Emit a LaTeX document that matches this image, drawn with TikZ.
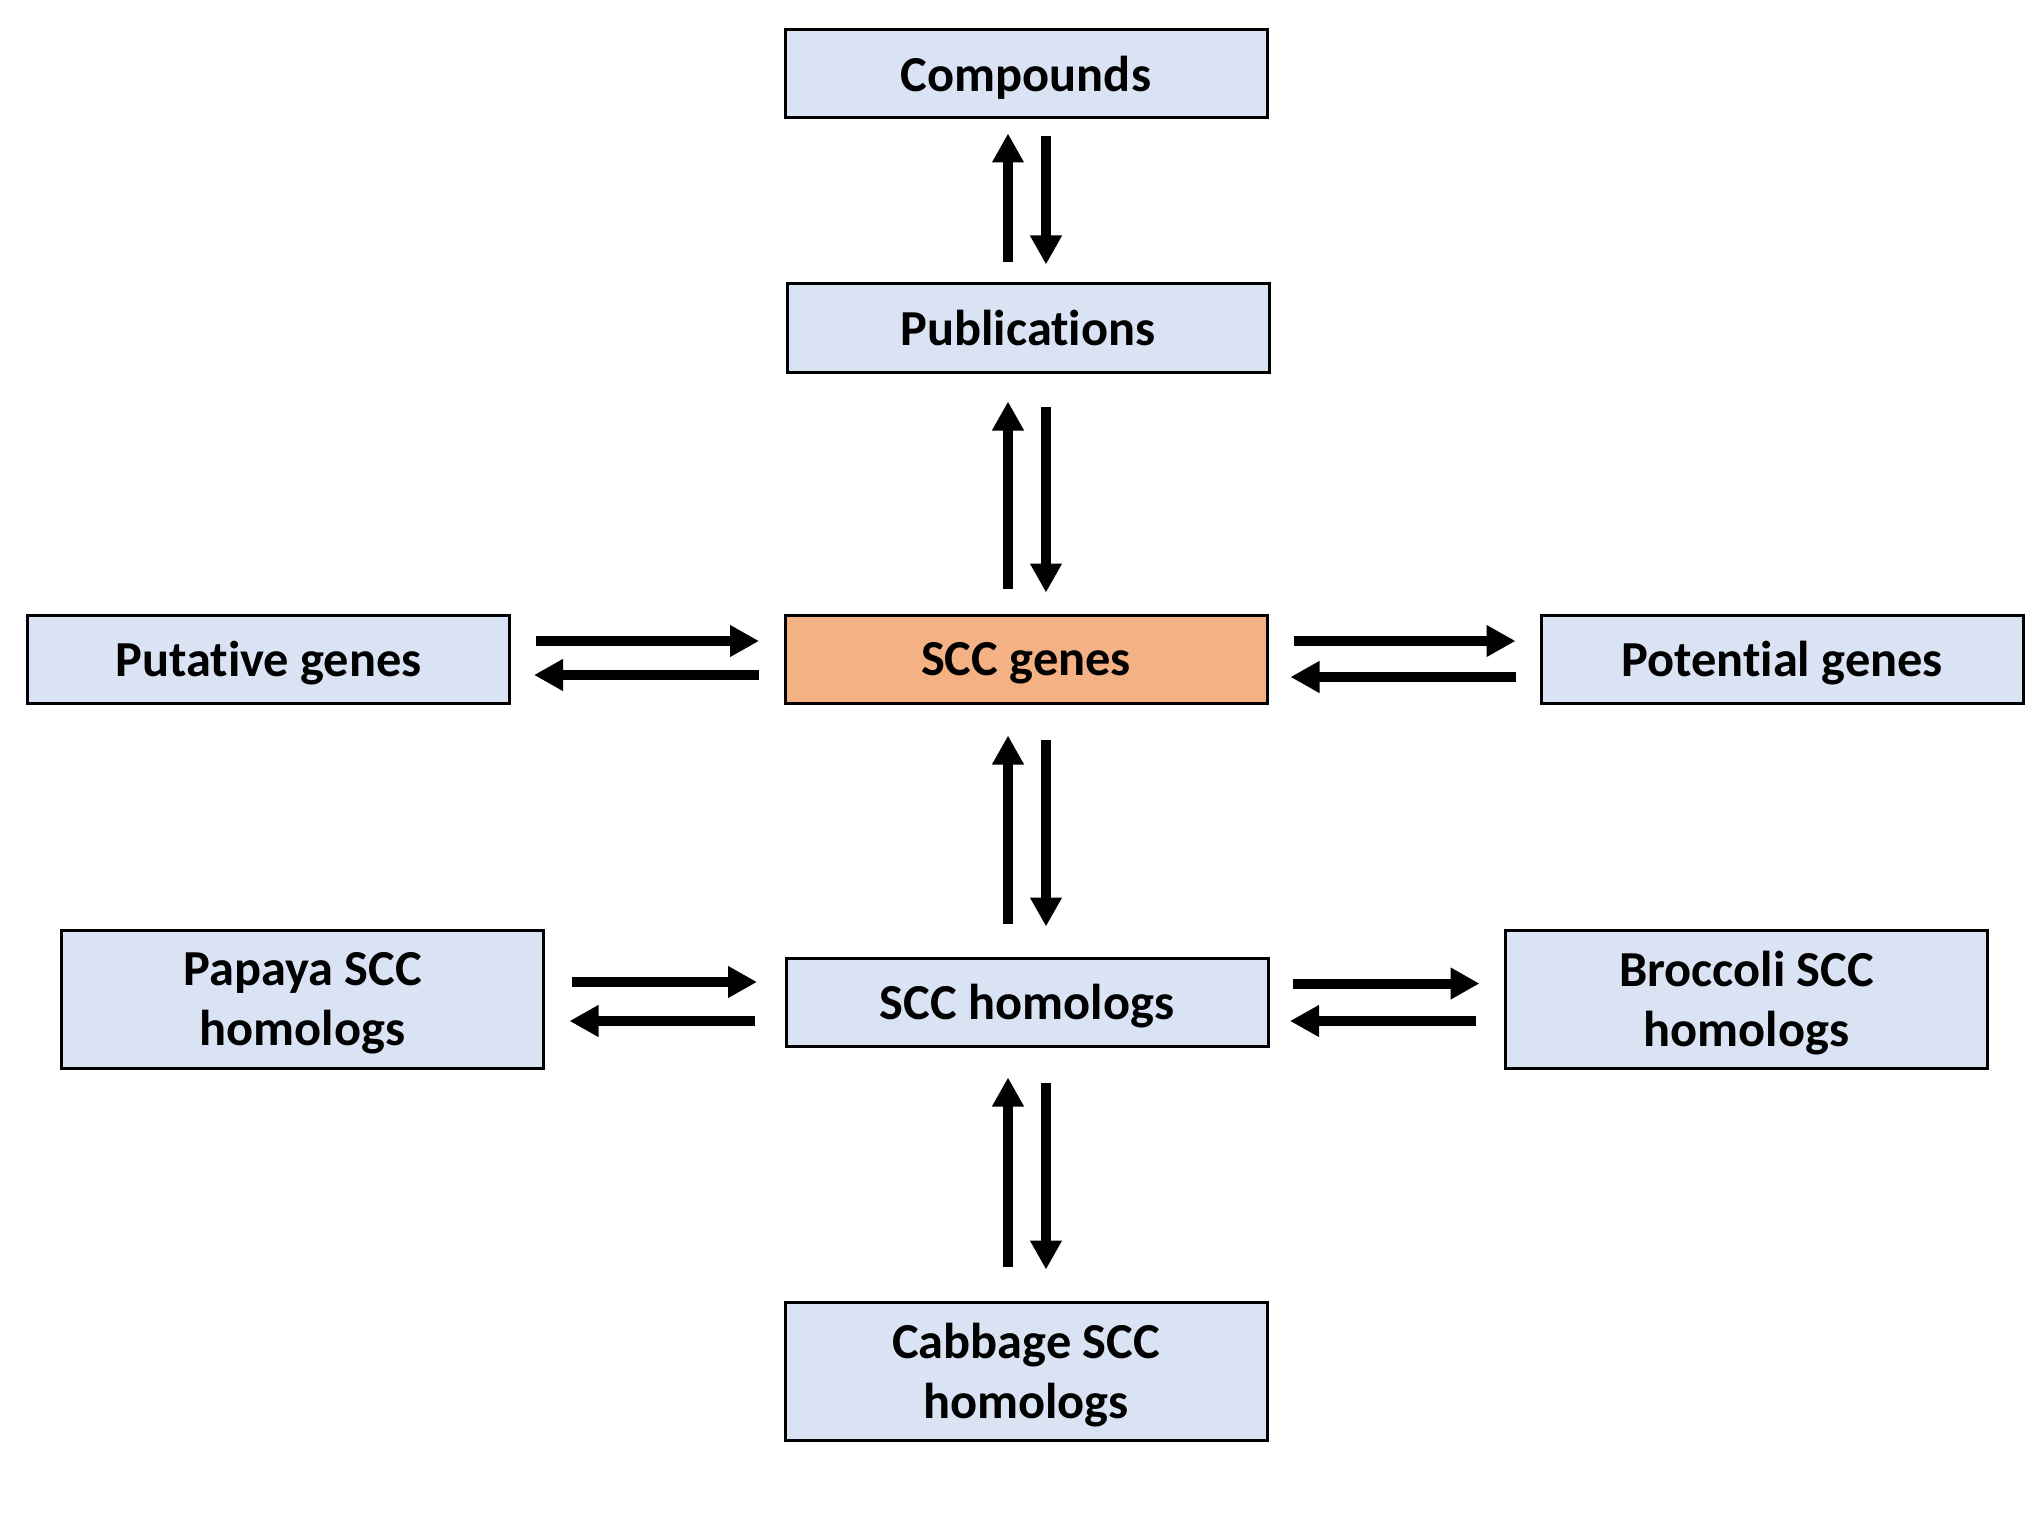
\documentclass[tikz,border=0pt]{standalone}
\usepackage{fontspec}
\setmainfont{Carlito}[Ligatures=NoCommon]
\usetikzlibrary{arrows.meta}
\definecolor{boxblue}{HTML}{DAE3F3}
\definecolor{boxorange}{HTML}{F4B183}
\begin{document}
\begin{tikzpicture}[x=0.5pt,y=-0.5pt,
 box/.style={draw=black, line width=1.5pt, fill=boxblue, minimum width=241pt, minimum height=44pt, inner sep=0pt, text depth=0pt, align=center, font=\fontsize{25.2}{30}\selectfont\bfseries},
 tall/.style={minimum height=69pt},
 arr/.style={line width=5pt, -{Triangle[length=14.5pt,width=15pt]}}]
\fill[white] (0,0) rectangle (2040,1530);
\useasboundingbox (0,0) rectangle (2040,1530);

\node[box] (comp) at (1026,74) {Compounds};
\node[box] (pub) at (1028,328) {Publications};
\node[box, fill=boxorange] (scc) at (1026,659) {SCC genes};
\node[box] (put) at (268.5,659) {Putative genes};
\node[box] (pot) at (1782,659) {Potential genes};
\node[box] (hom) at (1027,1002) {SCC homologs};
\node[box,tall] (pap) at (302.5,999) {Papaya SCC\\homologs};
\node[box,tall] (bro) at (1746.5,999) {Broccoli SCC\\homologs};
\node[box,tall] (cab) at (1026,1371) {Cabbage SCC\\homologs};

% vertical arrows
\draw[arr, shorten <=10pt, shorten >=7pt] ([xshift=-10pt]pub.north) -- ([xshift=-10pt]pub.north |- comp.south);
\draw[arr, shorten <=8.5pt, shorten >=9pt] ([xshift=10pt]comp.south) -- ([xshift=10pt]comp.south |- pub.north);
\draw[arr, shorten <=12.5pt, shorten >=14pt] ([xshift=-9pt]scc.north) -- ([xshift=-9pt]scc.north |- pub.south);
\draw[arr, shorten <=16.5pt, shorten >=10.5pt] ([xshift=9pt]pub.south) -- ([xshift=9pt]pub.south |- scc.north);
\draw[arr, shorten <=16.5pt, shorten >=15.5pt] ([xshift=-9.5pt]hom.north) -- ([xshift=-9.5pt]hom.north |- scc.south);
\draw[arr, shorten <=17.5pt, shorten >=15pt] ([xshift=10pt]scc.south) -- ([xshift=10pt]scc.south |- hom.north);
\draw[arr, shorten <=17pt, shorten >=15pt] ([xshift=-9pt]cab.north) -- ([xshift=-9pt]cab.north |- hom.south);
\draw[arr, shorten <=17.5pt, shorten >=15.5pt] ([xshift=9.5pt]hom.south) -- ([xshift=9.5pt]hom.south |- cab.north);

% horizontal arrows
\draw[arr, shorten <=12.5pt, shorten >=12.25pt] ([yshift=9pt]put.east) -- ([yshift=9pt]put.east -| scc.west);
\draw[arr, shorten <=12.25pt, shorten >=11.5pt] ([yshift=-8pt]scc.west) -- ([yshift=-8pt]scc.west -| put.east);
\draw[arr, shorten <=12.5pt, shorten >=12pt] ([yshift=9pt]scc.east) -- ([yshift=9pt]scc.east -| pot.west);
\draw[arr, shorten <=12pt, shorten >=11pt] ([yshift=-9pt]pot.west) -- ([yshift=-9pt]pot.west -| scc.east);
\draw[arr, shorten <=13.5pt, shorten >=13.75pt] ([yshift=8.5pt]pap.east) -- ([yshift=8.5pt]pap.east -| hom.west);
\draw[arr, shorten <=15pt, shorten >=12.25pt] ([yshift=-9.5pt]hom.west) -- ([yshift=-9.5pt]hom.west -| pap.east);
\draw[arr, shorten <=11.75pt, shorten >=12.25pt] ([yshift=9.25pt]hom.east) -- ([yshift=9.25pt]hom.east -| bro.west);
\draw[arr, shorten <=14pt, shorten >=10.25pt] ([yshift=-11pt]bro.west) -- ([yshift=-11pt]bro.west -| hom.east);
\end{tikzpicture}
\end{document}
